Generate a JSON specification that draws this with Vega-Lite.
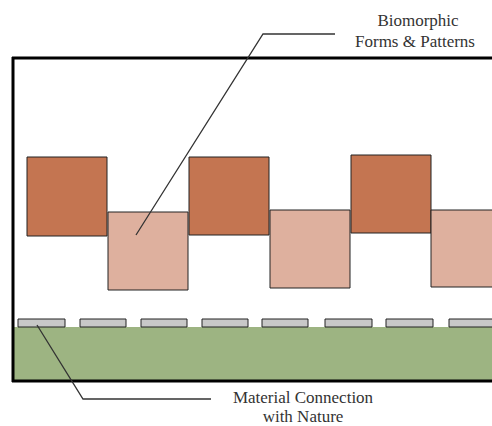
{
  "$schema": "https://vega.github.io/schema/vega-lite/v6.json",
  "width": 492,
  "height": 426,
  "autosize": "none",
  "padding": 0,
  "background": "white",
  "config": {"view": {"stroke": null}},
  "datasets": {
    "shapes": [
      {"x": 13, "x2": 495, "y": 327, "y2": 381, "kind": "green"},
      {"x": 18, "x2": 65, "y": 319, "y2": 327, "kind": "tile"},
      {"x": 80, "x2": 126, "y": 319, "y2": 327, "kind": "tile"},
      {"x": 141, "x2": 187, "y": 319, "y2": 327, "kind": "tile"},
      {"x": 202, "x2": 248, "y": 319, "y2": 327, "kind": "tile"},
      {"x": 262, "x2": 308, "y": 319, "y2": 327, "kind": "tile"},
      {"x": 325, "x2": 372, "y": 319, "y2": 327, "kind": "tile"},
      {"x": 386, "x2": 433, "y": 319, "y2": 327, "kind": "tile"},
      {"x": 449, "x2": 496, "y": 319, "y2": 327, "kind": "tile"},
      {"x": 27, "x2": 107, "y": 157, "y2": 236, "kind": "dark"},
      {"x": 108, "x2": 188, "y": 212, "y2": 290, "kind": "light"},
      {"x": 189, "x2": 269, "y": 157, "y2": 235, "kind": "dark"},
      {"x": 270, "x2": 350, "y": 210, "y2": 288, "kind": "light"},
      {"x": 351, "x2": 431, "y": 155, "y2": 233, "kind": "dark"},
      {"x": 431, "x2": 512, "y": 210, "y2": 287, "kind": "light"}
    ],
    "frame": [
      {"x": 12, "x2": 495, "y": 58, "y2": 58},
      {"x": 13, "x2": 13, "y": 57, "y2": 382},
      {"x": 12, "x2": 495, "y": 381, "y2": 381}
    ],
    "leaders": [
      {"id": "a", "o": 1, "x": 136, "y": 235},
      {"id": "a", "o": 2, "x": 263, "y": 34},
      {"id": "a", "o": 3, "x": 335, "y": 34},
      {"id": "b", "o": 1, "x": 37, "y": 325},
      {"id": "b", "o": 2, "x": 83, "y": 399},
      {"id": "b", "o": 3, "x": 211, "y": 399}
    ],
    "labels": [
      {"x": 418, "y": 26, "label": "Biomorphic"},
      {"x": 415, "y": 47, "label": "Forms & Patterns"},
      {"x": 303, "y": 403, "label": "Material Connection"},
      {"x": 303, "y": 422, "label": "with Nature"}
    ]
  },
  "layer": [
    {
      "data": {"name": "shapes"},
      "mark": {"type": "rect", "stroke": "#222222", "strokeWidth": 1, "clip": true},
      "encoding": {
        "x": {"field": "x", "type": "quantitative", "scale": {"domain": [0, 492], "nice": false, "zero": false}, "axis": null},
        "x2": {"field": "x2"},
        "y": {"field": "y", "type": "quantitative", "scale": {"domain": [426, 0], "nice": false, "zero": false}, "axis": null},
        "y2": {"field": "y2"},
        "fill": {"field": "kind", "type": "nominal", "legend": null,
          "scale": {"domain": ["green", "tile", "dark", "light"], "range": ["#9db482", "#c8c8c8", "#c47551", "#deb09e"]}},
        "strokeOpacity": {"condition": {"test": "datum.kind === 'green'", "value": 0}, "value": 1}
      }
    },
    {
      "data": {"name": "frame"},
      "mark": {"type": "rule", "color": "#000000", "strokeWidth": 3, "clip": true},
      "encoding": {
        "x": {"field": "x", "type": "quantitative"},
        "x2": {"field": "x2"},
        "y": {"field": "y", "type": "quantitative"},
        "y2": {"field": "y2"}
      }
    },
    {
      "data": {"name": "leaders"},
      "mark": {"type": "line", "color": "#333333", "strokeWidth": 1.3},
      "encoding": {
        "x": {"field": "x", "type": "quantitative"},
        "y": {"field": "y", "type": "quantitative"},
        "detail": {"field": "id"},
        "order": {"field": "o"}
      }
    },
    {
      "data": {"name": "labels"},
      "mark": {"type": "text", "font": "Liberation Serif, DejaVu Serif", "fontSize": 17, "color": "#333333", "align": "center", "baseline": "alphabetic"},
      "encoding": {
        "x": {"field": "x", "type": "quantitative"},
        "y": {"field": "y", "type": "quantitative"},
        "text": {"field": "label"}
      }
    }
  ]
}
